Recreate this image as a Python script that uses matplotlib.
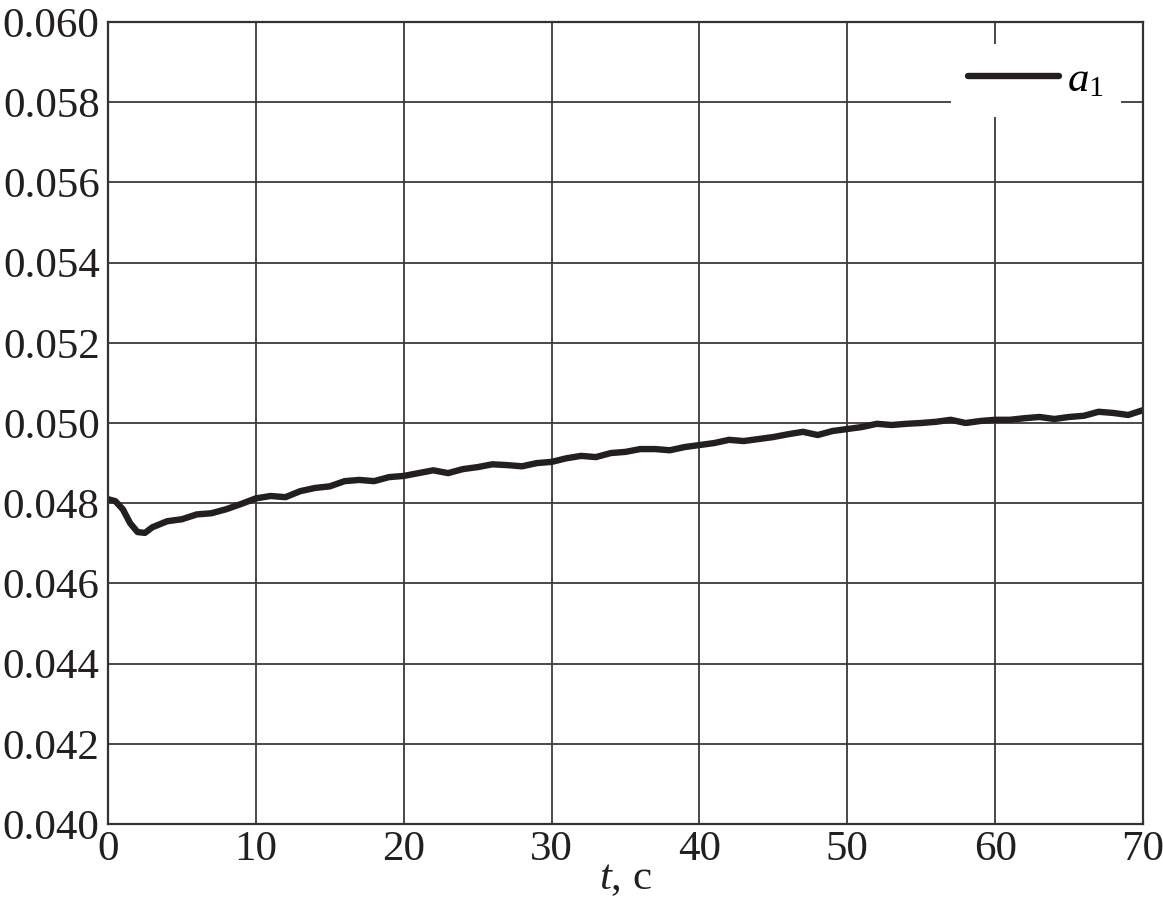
import numpy as np
import matplotlib.pyplot as plt

plt.rcParams['font.family'] = ['Liberation Serif', 'DejaVu Serif']
plt.rcParams['mathtext.fontset'] = 'custom'
plt.rcParams['mathtext.rm'] = 'Liberation Serif'
plt.rcParams['mathtext.it'] = 'Liberation Serif:italic'

# время, с
t = [0, 0.5, 1.0, 1.5, 2.0, 2.5, 3, 4, 5, 6, 7, 8, 9, 10, 11, 12, 13, 14, 15,
     16, 17, 18, 19, 20, 21, 22, 23, 24, 25, 26, 27, 28, 29, 30, 31, 32, 33,
     34, 35, 36, 37, 38, 39, 40, 41, 42, 43, 44, 45, 46, 47, 48, 49, 50, 51,
     52, 53, 54, 55, 56, 57, 58, 59, 60, 61, 62, 63, 64, 65, 66, 67, 68, 69, 70]
a1 = [0.04810, 0.04805, 0.04785, 0.04750, 0.04728, 0.04726, 0.04740, 0.04755,
      0.04760, 0.04772, 0.04775, 0.04785, 0.04798, 0.04812, 0.04818, 0.04815,
      0.04830, 0.04838, 0.04842, 0.04855, 0.04858, 0.04855, 0.04865, 0.04868,
      0.04875, 0.04882, 0.04875, 0.04885, 0.04890, 0.04897, 0.04895, 0.04892,
      0.04900, 0.04903, 0.04912, 0.04918, 0.04915, 0.04925, 0.04928, 0.04935,
      0.04935, 0.04932, 0.04940, 0.04945, 0.04950, 0.04958, 0.04955, 0.04960,
      0.04965, 0.04972, 0.04978, 0.04970, 0.04980, 0.04985, 0.04990, 0.04998,
      0.04995, 0.04998, 0.05000, 0.05003, 0.05008, 0.05000, 0.05005, 0.05008,
      0.05008, 0.05012, 0.05015, 0.05010, 0.05015, 0.05018, 0.05028, 0.05025,
      0.05020, 0.05032]

xticks = np.arange(0, 71, 10)
yticks = np.arange(0.040, 0.0601, 0.002)

ink = '#231f20'
fig = plt.figure(figsize=(11.63, 9.16), dpi=100)
ax = fig.add_axes([108 / 1163, 1 - 824 / 916, 1035 / 1163, 802 / 916])

ax.plot(t, a1, color=ink, lw=4.6, solid_capstyle='round', label='$a_1$')

ax.set_xlim(0, 70)
ax.set_ylim(0.040, 0.060)
ax.set_xticks(xticks)
ax.set_yticks(yticks)
ax.set_xticklabels([str(v) for v in xticks])
ax.set_yticklabels([f'{v:.3f}' for v in yticks])
ax.grid(True, color='#3a3a3a', lw=1.3)
ax.tick_params(direction='in', length=0, labelsize=31, colors=ink)
ax.tick_params(axis='y', pad=6)
ax.tick_params(axis='x', pad=5)
for s in ax.spines.values():
    s.set_color('#333333')
    s.set_linewidth(1.6)

ax.set_xlabel('$t$, с', fontsize=31, color=ink, labelpad=-7)

leg = ax.legend(loc='upper right', fontsize=31, frameon=True, handlelength=2.1,
                borderaxespad=0.5, handletextpad=0.2)
leg.get_frame().set_edgecolor('none')
leg.get_frame().set_facecolor('white')
leg.get_frame().set_alpha(1)

fig.savefig('out.png', dpi=100)
